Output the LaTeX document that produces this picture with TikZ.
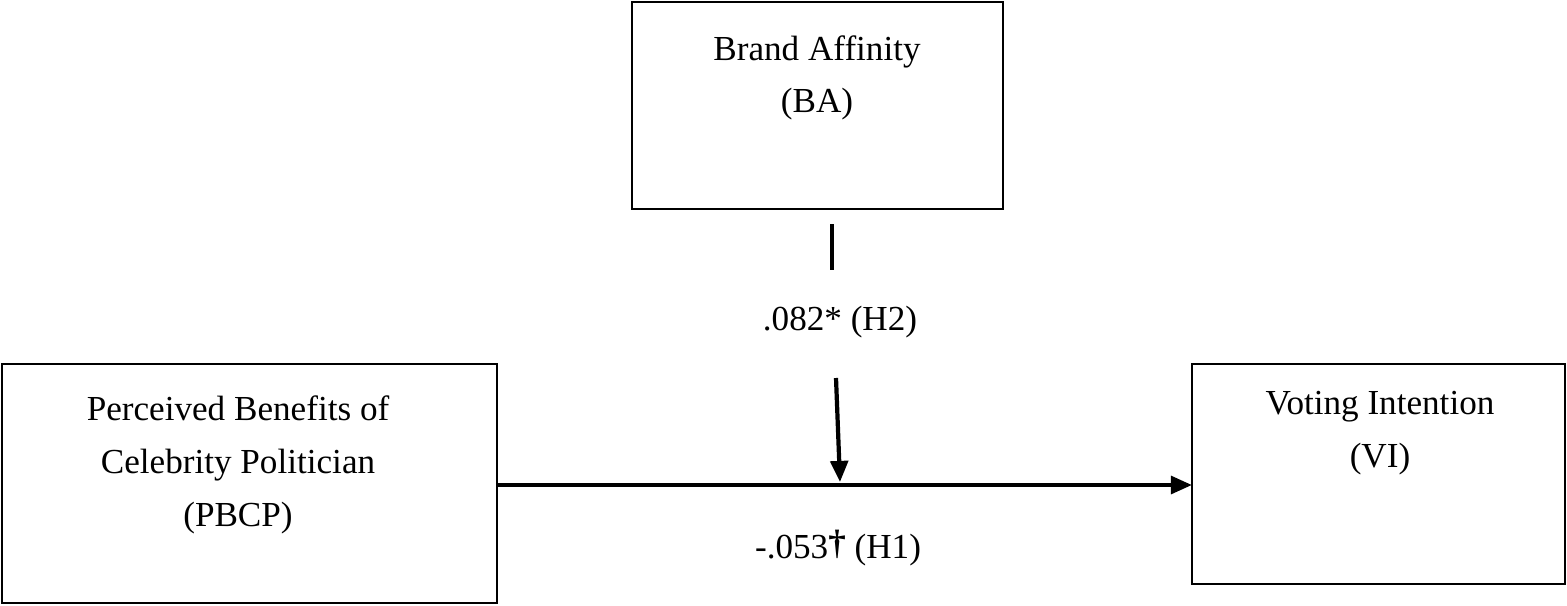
\documentclass[tikz,border=0pt]{standalone}
\usepackage{fontspec}
\setmainfont{Liberation Serif}
\usetikzlibrary{arrows.meta}
\tikzset{
  varbox/.style={draw, line width=1.6pt, inner sep=0pt},
  lbl/.style={font=\fontsize{20}{30}\selectfont, align=center},
  path/.style={line width=2.4pt, -{Triangle[length=12pt,width=10pt]}}
}
\begin{document}
\begin{tikzpicture}[x={(0.02cm,0cm)},y={(0cm,-0.02cm)}]
    \useasboundingbox (0,0) rectangle (1567,605);
    % ------ boxes --------
    \draw[varbox] (632,2) rectangle (1003,209);
    \draw[varbox] (2,364) rectangle (497,603);
    \draw[varbox] (1192,364) rectangle (1565,584);
    \node[lbl] (BA) at (817,78) {Brand Affinity\\(BA)};
    \node[lbl] (PBCP) at (238,465) {Perceived Benefits of\\Celebrity Politician\\(PBCP)};
    \node[lbl] (VI) at (1380,433) {Voting Intention\\(VI)};
    % ------ paths --------
    \coordinate (PBCPr) at (497,485);
    \coordinate (VIl) at (1192,485);
    \coordinate (BAb) at (832,224);
    \coordinate (Mtop) at (836,378);
    \coordinate (Mend) at (840,482);
    \draw[path] (PBCPr) -- (VIl);
    \draw[line width=2.4pt] (BAb) -- (832,270);
    \draw[path] (Mtop) -- (Mend);
    \node[lbl] (H2) at (840,322) {.082* (H2)};
    \node[lbl] (H1) at (838,548) {-.053\raisebox{2pt}{\textbf{†}} (H1)};
\end{tikzpicture}
\end{document}
